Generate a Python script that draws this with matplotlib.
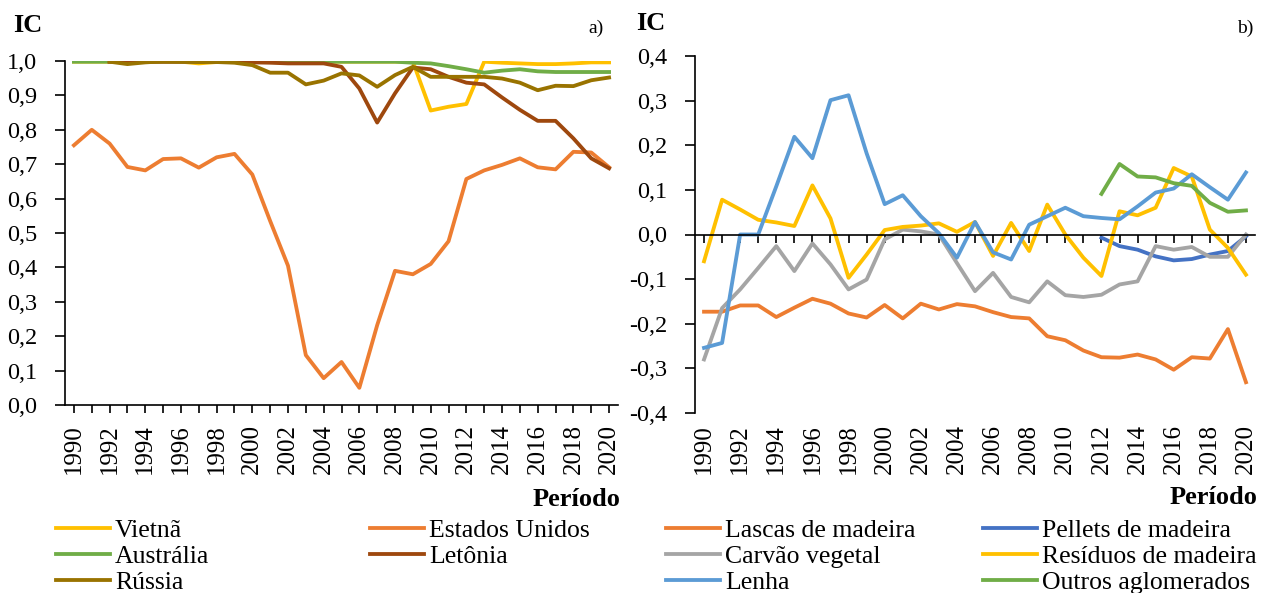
import numpy as np
import matplotlib.pyplot as plt
from matplotlib.ticker import FuncFormatter, MultipleLocator

plt.rcParams['font.family'] = ['Liberation Serif', 'DejaVu Serif']
plt.rcParams['axes.unicode_minus'] = False

nan = np.nan
anos = list(range(1990, 2021))

# a) IC por país
vietna = [0.998, 0.998, 0.998, 0.998, 0.998, 0.998, 0.998, 0.993, 0.997, 0.998,
          0.998, 0.998, 0.998, 0.998, 0.998, 0.998, 0.998, 0.998, 0.998, 0.998,
          0.856, 0.867, 0.875, 0.998, 0.995, 0.993, 0.991, 0.991, 0.993, 0.996, 0.996]
estados_unidos = [0.755, 0.800, 0.760, 0.692, 0.682, 0.715, 0.717, 0.690, 0.720, 0.730,
                  0.670, 0.535, 0.405, 0.145, 0.078, 0.125, 0.050, 0.232, 0.390, 0.380,
                  0.410, 0.476, 0.657, 0.682, 0.698, 0.717, 0.691, 0.685, 0.736, 0.734, 0.691]
australia = [0.998, 0.998, 0.998, 0.998, 0.998, 0.998, 0.998, 0.998, 0.998, 0.998,
             0.998, 0.998, 0.998, 0.998, 0.998, 0.998, 0.998, 0.998, 0.998, 0.995,
             0.993, 0.985, 0.976, 0.966, 0.972, 0.976, 0.970, 0.968, 0.968, 0.968, 0.968]
letonia = [nan, nan, 0.998, 0.998, 0.998, 0.998, 0.998, 0.998, 0.998, 0.998,
           0.996, 0.995, 0.993, 0.993, 0.993, 0.983, 0.920, 0.821, 0.906, 0.981,
           0.976, 0.954, 0.937, 0.932, 0.894, 0.858, 0.826, 0.826, 0.775, 0.717, 0.688]
russia = [nan, nan, 0.998, 0.991, 0.996, 0.999, 0.998, 0.997, 0.997, 0.995,
          0.988, 0.966, 0.966, 0.932, 0.943, 0.964, 0.958, 0.925, 0.959, 0.983,
          0.954, 0.954, 0.954, 0.954, 0.949, 0.937, 0.915, 0.928, 0.927, 0.944, 0.952]

# b) IC por produto
lascas = [-0.173, -0.173, -0.159, -0.159, -0.185, -0.164, -0.144, -0.155, -0.177, -0.186,
          -0.158, -0.188, -0.155, -0.168, -0.156, -0.161, -0.174, -0.185, -0.188, -0.228,
          -0.237, -0.260, -0.275, -0.276, -0.269, -0.280, -0.303, -0.275, -0.278, -0.212, -0.331]
pellets = [nan, nan, nan, nan, nan, nan, nan, nan, nan, nan,
           nan, nan, nan, nan, nan, nan, nan, nan, nan, nan,
           nan, nan, -0.007, -0.026, -0.034, -0.049, -0.058, -0.055, -0.045, -0.037, -0.004]
carvao = [-0.280, -0.165, -0.123, -0.075, -0.026, -0.082, -0.020, -0.067, -0.123, -0.101,
          -0.011, 0.011, 0.007, 0.000, -0.064, -0.127, -0.086, -0.140, -0.152, -0.105,
          -0.136, -0.140, -0.135, -0.112, -0.105, -0.026, -0.034, -0.028, -0.050, -0.050, 0.000]
residuos = [-0.060, 0.078, 0.056, 0.033, 0.027, 0.019, 0.110, 0.036, -0.097, -0.045,
            0.010, 0.017, 0.020, 0.025, 0.006, 0.028, -0.048, 0.026, -0.037, 0.067,
            0.000, -0.052, -0.093, 0.052, 0.043, 0.060, 0.149, 0.130, 0.011, -0.030, -0.090]
lenha = [-0.254, -0.243, 0.000, 0.000, 0.108, 0.219, 0.171, 0.301, 0.312, 0.182,
         0.068, 0.088, 0.041, 0.003, -0.052, 0.028, -0.040, -0.056, 0.022, 0.041,
         0.060, 0.041, 0.037, 0.034, 0.063, 0.094, 0.103, 0.135, 0.106, 0.078, 0.139]
outros = [nan, nan, nan, nan, nan, nan, nan, nan, nan, nan,
          nan, nan, nan, nan, nan, nan, nan, nan, nan, nan,
          nan, nan, 0.091, 0.158, 0.130, 0.128, 0.115, 0.109, 0.071, 0.051, 0.054]

W, H = 1266, 593
FS = 17.5      # rótulos do eixo y
FSX = 18       # rótulos do eixo x
FSB = 19       # textos em negrito
LW = 2.75
fig = plt.figure(figsize=(W / 100, H / 100), dpi=100)

def px(x0, y0, x1, y1):
    # caixa em pixels (topo = y0) -> fração da figura
    return [x0 / W, 1 - y1 / H, (x1 - x0) / W, (y1 - y0) / H]

virgula = FuncFormatter(lambda v, p: f"{v:.1f}".replace('.', ','))

def eixo_x(ax):
    ax.set_xlim(1989.5, 2020.5)
    ax.set_xticks(anos[::2])
    ax.xaxis.set_minor_locator(MultipleLocator(1))
    ax.tick_params(axis='x', which='both', direction='out', length=6, width=1.2)

# ---------- a) ----------
ax1 = fig.add_axes(px(65, 61, 618, 405))
series_a = [('Vietnã', vietna, '#FFC000'),
            ('Estados Unidos', estados_unidos, '#ED7D31'),
            ('Austrália', australia, '#70AD47'),
            ('Letônia', letonia, '#9E480E'),
            ('Rússia', russia, '#997300')]
linhas_a = {}
for nome, vals, cor in series_a:
    linhas_a[nome], = ax1.plot(anos, vals, color=cor, lw=LW, label=nome)
ax1.set_ylim(0, 1.0)
ax1.yaxis.set_major_locator(MultipleLocator(0.1))
ax1.yaxis.set_major_formatter(virgula)
eixo_x(ax1)
ax1.tick_params(axis='x', labelrotation=90, labelsize=FSX, pad=8)
ax1.tick_params(axis='y', direction='out', length=7, width=1.2, labelsize=FS, pad=13)
for s in ['top', 'right']:
    ax1.spines[s].set_visible(False)
for s in ['left', 'bottom']:
    ax1.spines[s].set_linewidth(1.2)

# ---------- b) ----------
ax2 = fig.add_axes(px(695, 56, 1255, 413))
series_b = [('Lascas de madeira', lascas, '#ED7D31'),
            ('Pellets de madeira', pellets, '#4472C4'),
            ('Carvão vegetal', carvao, '#A5A5A5'),
            ('Resíduos de madeira', residuos, '#FFC000'),
            ('Lenha', lenha, '#5B9BD5'),
            ('Outros aglomerados', outros, '#70AD47')]
linhas_b = {}
for nome, vals, cor in series_b:
    linhas_b[nome], = ax2.plot(anos, vals, color=cor, lw=LW, label=nome)
ax2.set_ylim(-0.4, 0.4)
ax2.yaxis.set_major_locator(MultipleLocator(0.1))
ax2.yaxis.set_major_formatter(virgula)
eixo_x(ax2)
ax2.spines['bottom'].set_position(('data', 0))
ax2.tick_params(axis='x', which='both', labelbottom=False)
ax2.tick_params(axis='y', direction='out', length=7, width=1.2, labelsize=FS, pad=13)
for s in ['top', 'right']:
    ax2.spines[s].set_visible(False)
for s in ['left', 'bottom']:
    ax2.spines[s].set_linewidth(1.2)
sec = ax2.secondary_xaxis(0)
sec.set_xticks(anos[::2])
sec.tick_params(axis='x', length=0, labelrotation=90, labelsize=FSX, pad=8)
sec.spines['bottom'].set_visible(False)

# ---------- textos ----------
fig.text(28 / W, 1 - 25 / H, 'IC', fontsize=FSB, fontweight='bold', ha='center', va='center')
fig.text(651 / W, 1 - 23 / H, 'IC', fontsize=FSB, fontweight='bold', ha='center', va='center')
fig.text(604 / W, 1 - 28 / H, 'a)', fontsize=14, ha='right', va='center')
fig.text(1253 / W, 1 - 28 / H, 'b)', fontsize=14, ha='right', va='center')
fig.text(620 / W, 1 - 499 / H, 'Período', fontsize=FSB, fontweight='bold', ha='right', va='center')
fig.text(1257 / W, 1 - 497 / H, 'Período', fontsize=FSB, fontweight='bold', ha='right', va='center')

def legenda(nomes, linhas, x_px, top_px):
    fig.legend(handles=[linhas[n] for n in nomes], loc='upper left',
               bbox_to_anchor=(x_px / W, 1 - top_px / H), frameon=False,
               borderpad=0, borderaxespad=0, handlelength=2.1, handletextpad=0.2,
               labelspacing=0.12, fontsize=18.5)

legenda(['Vietnã', 'Austrália', 'Rússia'], linhas_a, 56, 519)
legenda(['Estados Unidos', 'Letônia'], linhas_a, 370, 519)
legenda(['Lascas de madeira', 'Carvão vegetal', 'Lenha'], linhas_b, 666, 519)
legenda(['Pellets de madeira', 'Resíduos de madeira', 'Outros aglomerados'], linhas_b, 983, 519)

fig.savefig('out.png', dpi=100)
